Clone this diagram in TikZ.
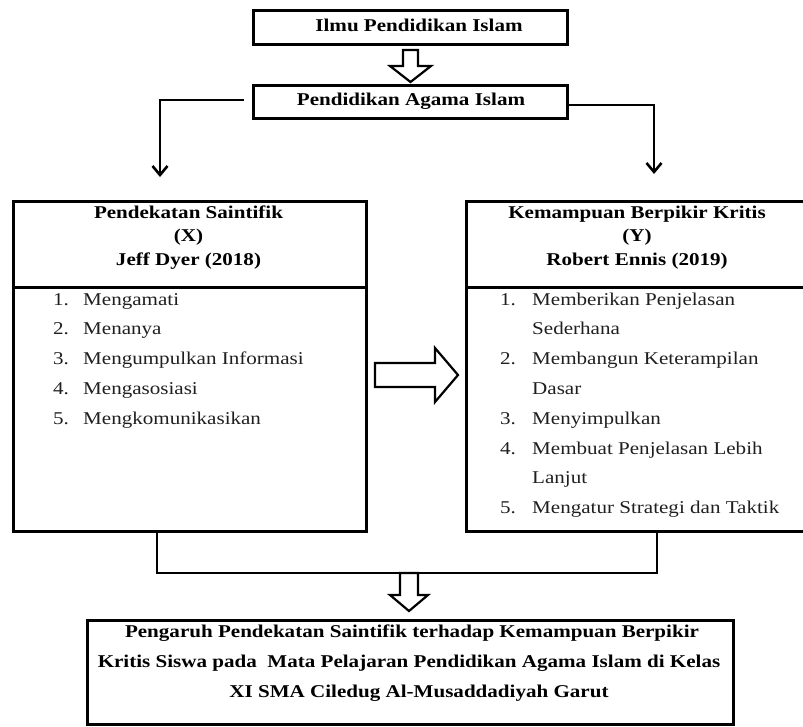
\documentclass[tikz,border=0pt]{standalone}
\usepackage{fontspec}
\setmainfont{Liberation Serif}[FakeStretch=1.17]
\usetikzlibrary{arrows.meta,calc}
\begin{document}
\begin{tikzpicture}[x=1pt,y=-1pt,
  box/.style={draw, line width=3pt, inner sep=0pt},
  conn/.style={line width=2.5pt},
  tipstyle/.style={-{Straight Barb[length=9pt,width=15pt,line width=2.6pt]}},
  hollow/.style={draw, line width=2.2pt, fill=white, line join=miter},
  hd/.style={font=\fontsize{18}{23}\selectfont\bfseries, inner sep=0pt, anchor=base},
  item/.style={font=\fontsize{18}{30}\selectfont, inner sep=0pt, anchor=base west, text=black!88}]

\useasboundingbox (0,0) rectangle (803,726);

% top boxes
\node[box, minimum width=314pt, minimum height=34pt] (t1) at (410,27) {};
\node[hd] (t1txt) at (419,31) {Ilmu Pendidikan Islam};
\node[box, minimum width=314pt, minimum height=33pt] (b2) at (410,101.5) {};
\node[hd] (b2txt) at (411,105) {Pendidikan Agama Islam};

% hollow arrow between top boxes
\draw[hollow] (403,50) -- (418,50) -- (418,66) -- (431,66) -- (410.5,82) -- (390,66) -- (403,66) -- cycle;

% big boxes
\node[box, anchor=north west, minimum width=353pt, minimum height=330pt] (L) at (12,200) {};
\node[box, anchor=north west, minimum width=344pt, minimum height=330pt] (R) at (465,200) {};
\coordinate (dy) at (0,287);
\draw[line width=3pt] (L.west |- dy) -- (L.east |- dy);
\draw[line width=3pt] (R.west |- dy) -- (R.east |- dy);

% headers
\node[hd] (Lh1) at (188.5,218) {Pendekatan Saintifik};
\node[hd] (Lh2) at (188.5,241.5) {(X)};
\node[hd] (Lh3) at (188.5,265) {Jeff Dyer (2018)};
\node[hd] (Rh1) at (637,218) {Kemampuan Berpikir Kritis};
\node[hd] (Rh2) at (637,241.5) {(Y)};
\node[hd] (Rh3) at (637,265) {Robert Ennis (2019)};

% lists
\foreach \n/\t [count=\i] in {1./Mengamati, 2./Menanya, 3./Mengumpulkan Informasi, 4./Mengasosiasi, 5./Mengkomunikasikan}
  \node[item] (li\i) at (53,{305+29.8*(\i-1)}) {\makebox[30pt][l]{\n}\t};
\foreach \n/\t [count=\i] in {1./Memberikan Penjelasan, /Sederhana, 2./Membangun Keterampilan, /Dasar, 3./Menyimpulkan, 4./Membuat Penjelasan Lebih, /Lanjut, 5./Mengatur Strategi dan Taktik}
  \node[item] (ri\i) at (500,{305+29.8*(\i-1)}) {\makebox[32pt][l]{\n}\t};

% hollow arrow between big boxes
\draw[hollow] (375,363) -- (435,363) -- (435,348) -- (458,375) -- (435,402) -- (435,387) -- (375,387) -- cycle;

% connectors from Pendidikan Agama Islam
\coordinate (ls) at ([xshift=-8pt]b2.west |- 0,100);
\coordinate (lt) at (160,177);
\draw[conn, tipstyle] (ls) -| (lt);
\coordinate (rt) at (654,174);
\draw[conn, tipstyle] ([yshift=-3.5pt]b2.east) -| (rt);

% bottom joining lines
\coordinate (jy) at (0,573);
\coordinate (la) at ([xshift=145pt]L.south west);
\coordinate (ra) at ([xshift=192pt]R.south west);
\draw[conn] (la) -- (la |- jy) -- (ra |- jy) -- (ra);

% bottom hollow arrow
\draw[hollow] (400,573) -- (418,573) -- (418,595) -- (428,595) -- (409,611) -- (390,595) -- (400,595) -- cycle;

% bottom box
\node[box, minimum width=646pt, minimum height=104pt] (B) at (410,672) {};
\node[hd] (B1) at (412,637) {Pengaruh Pendekatan Saintifik terhadap Kemampuan Berpikir};
\node[hd] (B2) at (409,667) {Kritis Siswa pada~ Mata Pelajaran Pendidikan Agama Islam di Kelas};
\node[hd] (B3) at (419,697) {XI SMA Ciledug Al-Musaddadiyah Garut};
\end{tikzpicture}
\end{document}
